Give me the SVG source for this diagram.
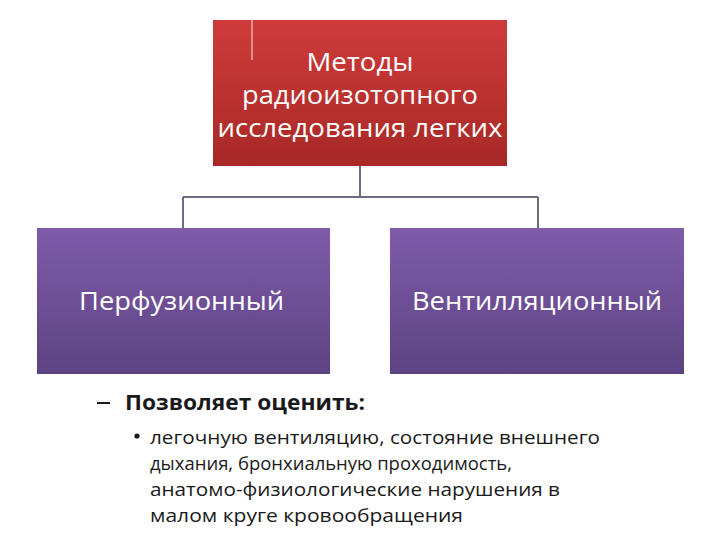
<svg xmlns="http://www.w3.org/2000/svg" width="720" height="540" viewBox="0 0 720 540">
<defs>
<linearGradient id="gRed" x1="0" y1="0" x2="0" y2="1">
<stop offset="0" stop-color="#cf3b3a"/>
<stop offset="1" stop-color="#a72826"/>
</linearGradient>
<linearGradient id="gPur" x1="0" y1="0" x2="0" y2="1">
<stop offset="0" stop-color="#7f5ba9"/>
<stop offset="1" stop-color="#5c4383"/>
</linearGradient>
<style>
.box{font-family:"Open Sans","Noto Sans","Liberation Sans",sans-serif;fill:#ffffff;text-anchor:middle}
.conn{fill:none;stroke:#6b6b80;stroke-width:2}
.body{font-family:"Open Sans","Noto Sans","Liberation Sans",sans-serif;fill:#1a1a1a}
</style>
</defs>
<rect width="720" height="540" fill="#ffffff"/>
<g id="connectors">
<path class="conn" d="M360 166 V197 M183 197 H538 M183 197 V228 M538 197 V228"/>
</g>
<g id="node-root">
<rect x="213" y="20" width="294" height="146" fill="url(#gRed)"/>
<line x1="252" y1="17" x2="252" y2="60" stroke="#f2e6e6" stroke-width="1"/>
<text class="box" font-size="25" x="360" y="71" textLength="107" lengthAdjust="spacingAndGlyphs">Методы</text>
<text class="box" font-size="25" x="360" y="104" textLength="236" lengthAdjust="spacingAndGlyphs">радиоизотопного</text>
<text class="box" font-size="25" x="360" y="137" textLength="285" lengthAdjust="spacingAndGlyphs">исследования легких</text>
</g>
<g id="node-perf">
<rect x="37" y="228" width="293" height="146" fill="url(#gPur)"/>
<text class="box" font-size="25" x="181.5" y="310" textLength="205" lengthAdjust="spacingAndGlyphs">Перфузионный</text>
</g>
<g id="node-vent">
<rect x="390" y="228" width="294" height="146" fill="url(#gPur)"/>
<text class="box" font-size="25" x="537" y="310" textLength="250" lengthAdjust="spacingAndGlyphs">Вентилляционный</text>
</g>
<g id="notes">
<line x1="97" y1="403" x2="110" y2="403" stroke="#1a1a1a" stroke-width="2"/>
<text class="body" font-size="21" font-weight="bold" x="125" y="410" textLength="240" lengthAdjust="spacingAndGlyphs">Позволяет оценить:</text>
<circle cx="137" cy="436" r="2.6" fill="#1a1a1a"/>
<text class="body" font-size="19" x="150" y="444" textLength="450" lengthAdjust="spacingAndGlyphs">легочную вентиляцию, состояние внешнего</text>
<text class="body" font-size="19" x="150" y="470" textLength="362" lengthAdjust="spacingAndGlyphs">дыхания, бронхиальную проходимость,</text>
<text class="body" font-size="19" x="150" y="496" textLength="410" lengthAdjust="spacingAndGlyphs">анатомо-физиологические нарушения в</text>
<text class="body" font-size="19" x="150" y="522" textLength="313" lengthAdjust="spacingAndGlyphs">малом круге кровообращения</text>
</g>
</svg>
